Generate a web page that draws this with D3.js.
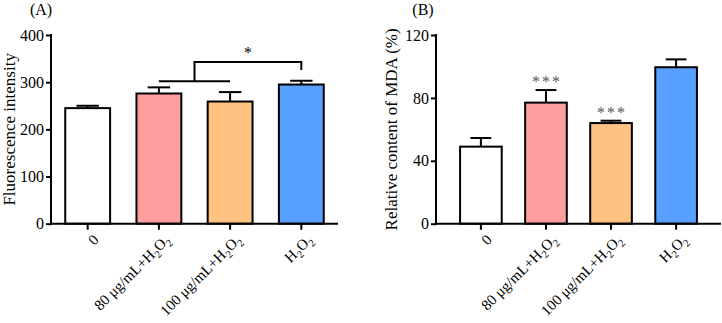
<!DOCTYPE html>
<html><head><meta charset="utf-8">
<script src="https://cdn.jsdelivr.net/npm/d3@7"></script>
<style>body{margin:0;background:#fff}svg{display:block}text{font-family:"Liberation Serif","Times New Roman",serif;fill:#000}</style>
</head><body><svg id="c" width="722" height="323"></svg>
<script>
const categories = ["0", "80 μg/mL+H2O2", "100 μg/mL+H2O2", "H2O2"];
const colors = ["#ffffff", "#ff9e9e", "#ffc281", "#58a0ff"];
const fluorMean = [245, 276, 259, 295];
const fluorErr = [5, 13, 20, 8];
const fluorTicks = [0, 100, 200, 300, 400];
const mdaMean = [49, 77, 64, 99.5];
const mdaErr = [5.5, 8, 1.5, 5];
const mdaTicks = [0, 40, 80, 120];
const mdaStars = ["", "***", "***", ""];
// bracket annotation for panel A (in data units)
const bracketLow = 302, bracketHigh = 343, bracketDrop = 326, bracketStar = "*";

const FS = 16;
const svg = d3.select("#c");

function labelParts(s) {
  const parts = [];
  let buf = "";
  for (let i = 0; i < s.length; i++) {
    const ch = s[i];
    if (/\d/.test(ch) && i > 0 && /[HO]/.test(s[i - 1])) {
      if (buf) parts.push({t: buf, sub: false});
      buf = "";
      parts.push({t: ch, sub: true});
    } else buf += ch;
  }
  if (buf) parts.push({t: buf, sub: false});
  return parts;
}

function panel(cfg) {
  const g = svg.append("g");
  const y = d3.scaleLinear().domain([0, cfg.max]).range([223.7, 35]);
  const x = d3.scaleBand().domain(categories).range([cfg.x0, cfg.x1])
    .paddingInner(cfg.pi).paddingOuter(cfg.po);

  g.selectAll("rect.bar").data(categories).join("rect")
    .attr("x", d => x(d)).attr("width", x.bandwidth())
    .attr("y", (d, i) => y(cfg.mean[i])).attr("height", (d, i) => y(0) - y(cfg.mean[i]))
    .attr("fill", (d, i) => colors[i]).attr("stroke", "#000").attr("stroke-width", 2);

  categories.forEach((d, i) => {
    const cx = x(d) + x.bandwidth() / 2, hw = x.bandwidth() / 4;
    g.append("line").attr("x1", cx).attr("x2", cx)
      .attr("y1", y(cfg.mean[i])).attr("y2", y(cfg.mean[i] + cfg.err[i]))
      .attr("stroke", "#000").attr("stroke-width", 2);
    g.append("line").attr("x1", cx - hw).attr("x2", cx + hw)
      .attr("y1", y(cfg.mean[i] + cfg.err[i])).attr("y2", y(cfg.mean[i] + cfg.err[i]))
      .attr("stroke", "#000").attr("stroke-width", 2);
  });

  const ya = g.append("g").attr("transform", `translate(${cfg.x0},0)`)
    .call(d3.axisLeft(y).tickValues(cfg.ticks).tickSize(5).tickPadding(2).tickSizeOuter(0));
  ya.select(".domain").attr("stroke", "#000").attr("stroke-width", 2).attr("d", `M0,${y(cfg.max) - 1}V${y(0) + 1}`);
  ya.selectAll(".tick line").attr("stroke", "#000").attr("stroke-width", 2);
  ya.selectAll(".tick text").attr("font-size", FS).attr("font-family", "Liberation Serif").attr("fill", "#000");

  const xa = g.append("g").attr("transform", `translate(0,${y(0)})`)
    .call(d3.axisBottom(x).tickSize(6).tickSizeOuter(0).tickFormat(""));
  xa.select(".domain").attr("stroke", "#000").attr("stroke-width", 2).attr("d", `M${cfg.x0 - 1},0H${cfg.x1}`);
  xa.selectAll(".tick line").attr("stroke", "#000").attr("stroke-width", 2);

  categories.forEach(d => {
    const cx = x(d) + x.bandwidth() / 2;
    const t = g.append("text").attr("font-size", 15).attr("text-anchor", "end")
      .attr("transform", `translate(${cx + 12},${y(0) + 17}) rotate(-45)`);
    labelParts(d).forEach((p, k) => {
      const ts = t.append("tspan").text(p.t);
      if (p.sub) ts.attr("font-size", 10.5).attr("dy", 4);
      else if (k > 0) ts.attr("dy", -4);
    });
  });

  g.append("text").attr("font-size", 17).attr("text-anchor", "middle")
    .attr("transform", `translate(${cfg.labelX},${(y(0) + y(cfg.max)) / 2}) rotate(-90)`)
    .text(cfg.ylabel);

  g.append("text").attr("font-size", FS).attr("text-anchor", "middle")
    .attr("x", cfg.letterX).attr("y", 15).text(cfg.letter);
  return {x, y, g};
}

const A = panel({max: 400, ticks: fluorTicks, mean: fluorMean, err: fluorErr,
  x0: 51, x1: 338, pi: 0.37, po: 0.2, ylabel: "Fluorescence intensity", labelX: 15, letter: "(A)", letterX: 41});

{
  const {x, y, g} = A;
  const c = i => x(categories[i]) + x.bandwidth() / 2;
  const mid = (c(1) + c(2)) / 2;
  g.append("line").attr("x1", c(1)).attr("x2", c(2)).attr("y1", y(bracketLow)).attr("y2", y(bracketLow))
    .attr("stroke", "#000").attr("stroke-width", 2);
  g.append("path").attr("d", `M${mid},${y(bracketLow)}V${y(bracketHigh)}H${c(3)}V${y(bracketDrop)}`)
    .attr("fill", "none").attr("stroke", "#000").attr("stroke-width", 2);
  g.append("text").attr("font-size", FS).attr("text-anchor", "middle")
    .attr("x", (mid + c(3)) / 2).attr("y", y(bracketHigh) - 4).text(bracketStar);
}

const B = panel({max: 120, ticks: mdaTicks, mean: mdaMean, err: mdaErr,
  x0: 436, x1: 721, pi: 0.36, po: 0.37, ylabel: "Relative content of MDA (%)", labelX: 397, letter: "(B)", letterX: 423});

{
  const {x, y, g} = B;
  categories.forEach((d, i) => {
    if (!mdaStars[i]) return;
    g.append("text").attr("font-size", FS).attr("text-anchor", "middle").attr("letter-spacing", 2)
      .style("fill", "#555")
      .attr("x", x(d) + x.bandwidth() / 2 + 1).attr("y", y(mdaMean[i] + mdaErr[i]) - 3).text(mdaStars[i]);
  });
}
</script></body></html>
